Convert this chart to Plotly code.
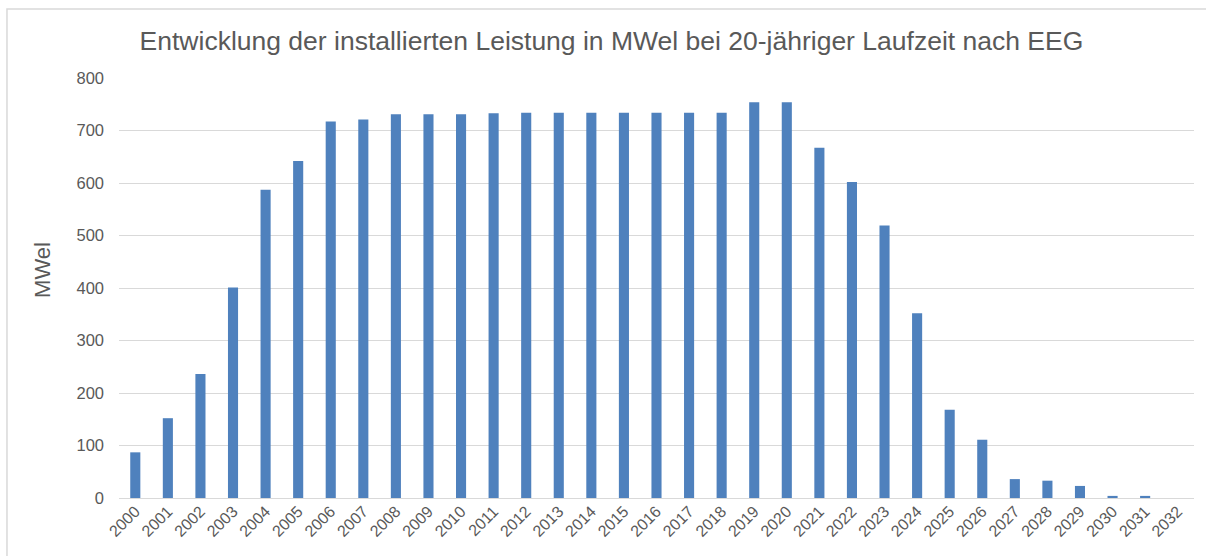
import plotly.graph_objects as go

years = [str(y) for y in range(2000, 2033)]
mwel = [87, 152, 236, 401, 587, 642, 717, 721, 731, 731, 731, 733, 734, 734, 734,
        734, 734, 734, 734, 754, 754, 667, 602, 519, 352, 168, 111, 36, 33, 23, 4, 4, 0]

title_text = "Entwicklung der installierten Leistung in MWel bei 20-jähriger Laufzeit nach EEG"
y_title = "MWel"
y_ticks = [0, 100, 200, 300, 400, 500, 600, 700, 800]

txt = "#595959"
fnt = "Liberation Sans, Arial, sans-serif"

fig = go.Figure(go.Bar(x=years, y=mwel, marker=dict(color="#4F81BD", line=dict(width=0))))

fig.update_layout(
    width=1206, height=556,
    margin=dict(l=119, r=12, t=78, b=58),
    paper_bgcolor="white", plot_bgcolor="white",
    bargap=0.69,
    showlegend=False,
    font=dict(family=fnt, color=txt, size=16.5),
    title=dict(text=title_text, x=0.507, xanchor="center", y=0.927, yanchor="middle",
               font=dict(size=26.5, color=txt, family=fnt)),
)
fig.update_xaxes(type="category", tickangle=-45, showgrid=False, showline=False, ticks="",
                 tickfont=dict(size=16, color=txt), automargin=False)
fig.update_yaxes(range=[0, 800], tickvals=y_ticks, showgrid=True, gridcolor="#D9D9D9", gridwidth=1,
                 zeroline=True, zerolinecolor="#D9D9D9", zerolinewidth=1, showline=False, ticks="",
                 ticklabelstandoff=14, tickfont=dict(size=16.5, color=txt), automargin=False)

fig.add_annotation(text=y_title, xref="paper", yref="paper", x=-0.0707, y=0.543,
                   xanchor="center", yanchor="middle", textangle=-90, showarrow=False,
                   font=dict(size=22, color=txt, family=fnt))

# chart-area border (top and left visible in the reference)
fig.add_shape(type="rect", xref="paper", yref="paper", x0=-0.1042, x1=1.1, y0=-0.2, y1=1.164,
              line=dict(color="#D9D9D9", width=1.5), fillcolor="rgba(0,0,0,0)", layer="below")

fig.write_html("out.html", config={"displayModeBar": False},
               post_script="document.body.style.margin='0px';")
